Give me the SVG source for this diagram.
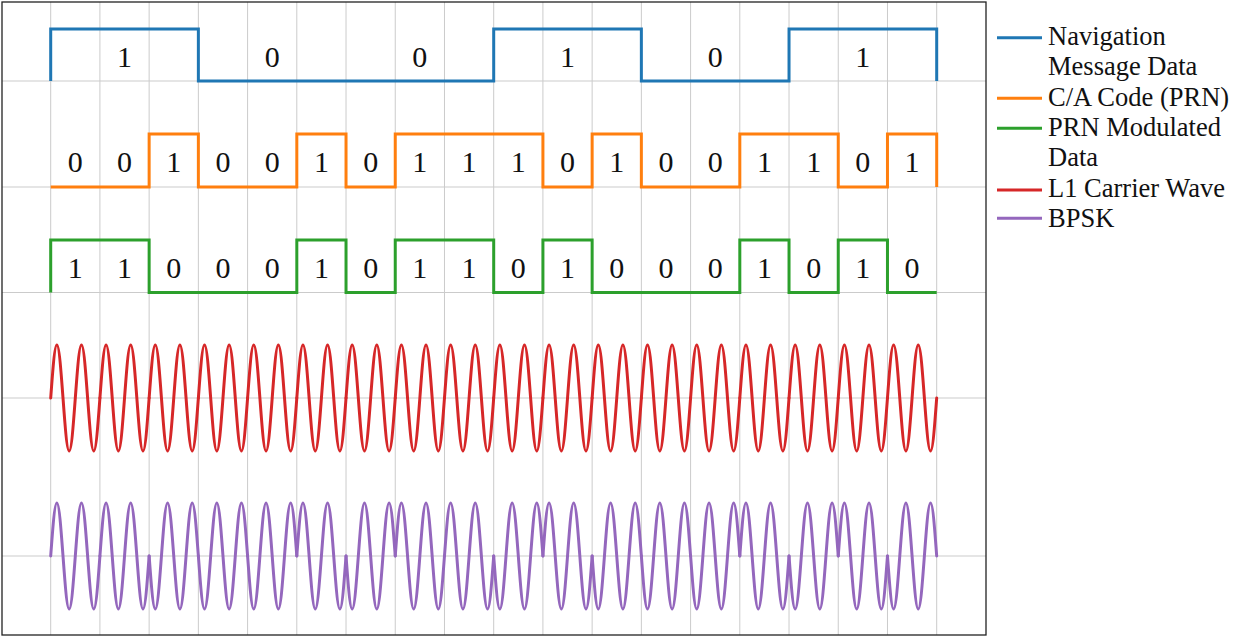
<svg xmlns="http://www.w3.org/2000/svg" width="1234" height="637" viewBox="0 0 1234 637">
<style>
.grid{stroke:#cbcbcb;stroke-width:1;fill:none}
.frame{stroke:#222;stroke-width:1.3;fill:none}
.tr{fill:none;stroke-width:3;stroke-linejoin:miter;stroke-linecap:butt}
.wv{fill:none;stroke-width:3;stroke-linecap:round;stroke-linejoin:round}
.nav{stroke:#1f77b4}.ca{stroke:#ff7f0e}.prn{stroke:#2ca02c}.l1{stroke:#d62728}.bpsk{stroke:#9467bd}
.lbl{font-size:30px;fill:#111;text-anchor:middle}
.leg{font-size:26.5px;fill:#111}
</style>
<defs>
<path id="wp" d="M0,0 c2.0066,-27.15 3.926,-53 6.1528,-53 c2.2268,0 4.1462,25.85 6.1528,53 c2.0066,27.15 3.926,53 6.1528,53 c2.2268,0 4.1462,-25.85 6.1528,-53 c2.0066,-27.15 3.926,-53 6.1528,-53 c2.2268,0 4.1462,25.85 6.1528,53 c2.0066,27.15 3.926,53 6.1528,53 c2.2268,0 4.1462,-25.85 6.1528,-53"/>
<path id="wn" d="M0,0 c2.0066,27.15 3.926,53 6.1528,53 c2.2268,0 4.1462,-25.85 6.1528,-53 c2.0066,-27.15 3.926,-53 6.1528,-53 c2.2268,0 4.1462,25.85 6.1528,53 c2.0066,27.15 3.926,53 6.1528,53 c2.2268,0 4.1462,-25.85 6.1528,-53 c2.0066,-27.15 3.926,-53 6.1528,-53 c2.2268,0 4.1462,25.85 6.1528,53"/>
</defs>
<rect width="1234" height="637" fill="#fff"/>
<g id="grid" class="grid">
<path d="M50.7,2V635M99.92,2V635M149.14,2V635M198.37,2V635M247.59,2V635M296.81,2V635M346.03,2V635M395.25,2V635M444.48,2V635M493.7,2V635M542.92,2V635M592.14,2V635M641.36,2V635M690.59,2V635M739.81,2V635M789.03,2V635M838.25,2V635M887.47,2V635M936.7,2V635"/>
<path d="M2,81H986M2,187H986M2,292.5H986M2,398H986M2,556H986"/>
</g>
<rect id="frame" class="frame" x="2" y="2" width="984" height="633"/>
<g id="connectors">
<g id="nav-trace"><path class="tr nav" d="M50.7,81V29H198.37V81H493.7V29H641.36V81H789.03V29H936.7V81"/></g>
<g id="ca-trace"><path class="tr ca" d="M50.7,187H149.14V134H198.37V187H296.81V134H346.03V187H395.25V134H542.92V187H592.14V134H641.36V187H739.81V134H838.25V187H887.47V134H936.7V187"/></g>
<g id="prn-trace"><path class="tr prn" d="M50.7,292.5V240H149.14V292.5H296.81V240H346.03V292.5H395.25V240H493.7V292.5H542.92V240H592.14V292.5H739.81V240H789.03V292.5H838.25V240H887.47V292.5H936.7"/></g>
<g id="l1-trace" class="wv l1">
<use href="#wp" x="50.7" y="398"/><use href="#wp" x="99.92" y="398"/><use href="#wp" x="149.14" y="398"/><use href="#wp" x="198.37" y="398"/><use href="#wp" x="247.59" y="398"/><use href="#wp" x="296.81" y="398"/><use href="#wp" x="346.03" y="398"/><use href="#wp" x="395.25" y="398"/><use href="#wp" x="444.48" y="398"/><use href="#wp" x="493.7" y="398"/><use href="#wp" x="542.92" y="398"/><use href="#wp" x="592.14" y="398"/><use href="#wp" x="641.36" y="398"/><use href="#wp" x="690.59" y="398"/><use href="#wp" x="739.81" y="398"/><use href="#wp" x="789.03" y="398"/><use href="#wp" x="838.25" y="398"/><use href="#wp" x="887.47" y="398"/>
</g>
<g id="bpsk-trace" class="wv bpsk">
<use href="#wp" x="50.7" y="556"/><use href="#wp" x="99.92" y="556"/><use href="#wn" x="149.14" y="556"/><use href="#wn" x="198.37" y="556"/><use href="#wn" x="247.59" y="556"/><use href="#wp" x="296.81" y="556"/><use href="#wn" x="346.03" y="556"/><use href="#wp" x="395.25" y="556"/><use href="#wp" x="444.48" y="556"/><use href="#wn" x="493.7" y="556"/><use href="#wp" x="542.92" y="556"/><use href="#wn" x="592.14" y="556"/><use href="#wn" x="641.36" y="556"/><use href="#wn" x="690.59" y="556"/><use href="#wp" x="739.81" y="556"/><use href="#wn" x="789.03" y="556"/><use href="#wp" x="838.25" y="556"/><use href="#wn" x="887.47" y="556"/>
</g>
</g>
<g font-family="'Times New Roman', Times, Tinos, 'Noto Serif', 'DejaVu Serif', Georgia, serif">
<g id="nav-labels" class="lbl">
<text x="124.53" y="67">1</text><text x="272.2" y="67">0</text><text x="419.86" y="67">0</text><text x="567.53" y="67">1</text><text x="715.2" y="67">0</text><text x="862.86" y="67">1</text>
</g>
<g id="ca-labels" class="lbl">
<text x="75.31" y="172">0</text><text x="124.53" y="172">0</text><text x="173.75" y="172">1</text><text x="222.98" y="172">0</text><text x="272.2" y="172">0</text><text x="321.42" y="172">1</text><text x="370.64" y="172">0</text><text x="419.86" y="172">1</text><text x="469.09" y="172">1</text><text x="518.31" y="172">1</text><text x="567.53" y="172">0</text><text x="616.75" y="172">1</text><text x="665.98" y="172">0</text><text x="715.2" y="172">0</text><text x="764.42" y="172">1</text><text x="813.64" y="172">1</text><text x="862.86" y="172">0</text><text x="912.09" y="172">1</text>
</g>
<g id="prn-labels" class="lbl">
<text x="75.31" y="278">1</text><text x="124.53" y="278">1</text><text x="173.75" y="278">0</text><text x="222.98" y="278">0</text><text x="272.2" y="278">0</text><text x="321.42" y="278">1</text><text x="370.64" y="278">0</text><text x="419.86" y="278">1</text><text x="469.09" y="278">1</text><text x="518.31" y="278">0</text><text x="567.53" y="278">1</text><text x="616.75" y="278">0</text><text x="665.98" y="278">0</text><text x="715.2" y="278">0</text><text x="764.42" y="278">1</text><text x="813.64" y="278">0</text><text x="862.86" y="278">1</text><text x="912.09" y="278">0</text>
</g>
<g id="legend">
<g id="leg-nav"><path class="tr nav" d="M997,37.7H1042"/><text class="leg" x="1048" y="45">Navigation</text><text class="leg" x="1048" y="75">Message Data</text></g>
<g id="leg-ca"><path class="tr ca" d="M997,98.3H1042"/><text class="leg" x="1048" y="106">C/A Code (PRN)</text></g>
<g id="leg-prn"><path class="tr prn" d="M997,128.3H1042"/><text class="leg" x="1048" y="136">PRN Modulated</text><text class="leg" x="1048" y="166">Data</text></g>
<g id="leg-l1"><path class="tr l1" d="M997,190H1042"/><text class="leg" x="1048" y="197">L1 Carrier Wave</text></g>
<g id="leg-bpsk"><path class="tr bpsk" d="M997,218.3H1042"/><text class="leg" x="1048" y="227">BPSK</text></g>
</g>
</g>
</svg>
